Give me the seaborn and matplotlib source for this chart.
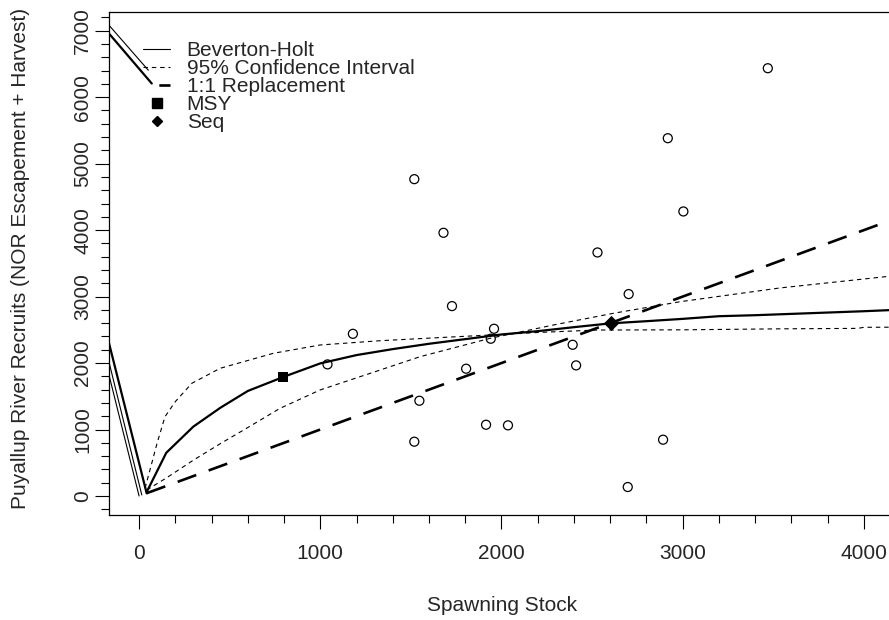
import matplotlib
matplotlib.use("Agg")
import matplotlib.pyplot as plt
from matplotlib.lines import Line2D
from matplotlib.ticker import MultipleLocator
import seaborn as sns
import pandas as pd

# ---- data ----
spawners = [3470, 2918, 1519, 3004, 1680, 2530, 2702, 1727, 1959, 1180, 1941,
            2393, 1040, 2412, 1805, 1547, 1915, 2036, 2892, 1519, 2697]
recruits = [6436, 5383, 4767, 4281, 3960, 3664, 3038, 2857, 2516, 2440, 2366,
            2275, 1980, 1965, 1915, 1433, 1072, 1063, 847, 817, 135]

bh_x = [42, 150, 300, 450, 600, 800, 1000, 1200, 1400, 1600, 1800, 2000, 2200,
        2400, 2600, 2800, 3000, 3200, 3400, 3600, 3800, 4000, 4172]
bh_y = [60, 650, 1045, 1330, 1580, 1795, 1995, 2120, 2210, 2290, 2360, 2430,
        2480, 2540, 2597, 2630, 2665, 2705, 2720, 2740, 2760, 2780, 2800]

ci_a_x = [33, 100, 143, 200, 291, 447, 741, 999, 1330, 1600, 1937, 2200, 2526,
          3000, 3537, 3968, 4000, 4172]
ci_a_y = [116, 800, 1193, 1420, 1695, 1921, 2147, 2272, 2336, 2375, 2422, 2460,
          2497, 2500, 2515, 2522, 2538, 2540]

ci_b_x = [42, 150, 300, 450, 600, 778, 999, 1330, 1551, 1937, 2300, 2618, 2986,
          3537, 4172]
ci_b_y = [90, 270, 540, 790, 1030, 1319, 1595, 1895, 2096, 2372, 2580, 2749,
          2923, 3130, 3315]

repl_x = [42, 4172]
repl_y = [42, 4172]

msy_x, msy_y = [796], [1794]
seq_x, seq_y = [2603], [2597]

# stray segments entering from the left edge
stray_thin1_x, stray_thin1_y = [-166, 0], [1820, 0]
stray_thin2_x, stray_thin2_y = [-166, 15], [2015, 15]
stray_thick_x, stray_thick_y = [-166, 42], [2300, 40]
stray_top_thin_x, stray_top_thin_y = [-166, 51], [7083, 6406]
stray_top_thick_x, stray_top_thick_y = [-166, 70], [6958, 6206]

legend_labels = ["Beverton-Holt", "95% Confidence Interval", "1:1 Replacement",
                 "MSY", "Seq"]
x_label = "Spawning Stock"
y_label = "Puyallup River Recruits (NOR Escapement + Harvest)"

# ---- style ----
sns.set_style("ticks")
plt.rcParams["font.family"] = ["Liberation Sans", "DejaVu Sans"]
FS = 15

fig = plt.figure(figsize=(8.89, 6.2), dpi=100)
W, H = 889, 620
left, right, top, bottom = 109, 895, 12, 515
ax = fig.add_axes([left / W, 1 - bottom / H, (right - left) / W, (bottom - top) / H])

def line(xs, ys, **kw):
    df = pd.DataFrame({"x": xs, "y": ys})
    sns.lineplot(data=df, x="x", y="y", ax=ax, sort=False, estimator=None,
                 color="black", **kw)

# stray lines
line(stray_thin1_x, stray_thin1_y, linewidth=0.8)
line(stray_thin2_x, stray_thin2_y, linewidth=0.8)
line(stray_thick_x, stray_thick_y, linewidth=1.6)
line(stray_top_thin_x, stray_top_thin_y, linewidth=0.8)
line(stray_top_thick_x, stray_top_thick_y, linewidth=1.6)

# curves
line(ci_a_x, ci_a_y, linewidth=0.8, linestyle=(0, (4, 3.5)))
line(ci_b_x, ci_b_y, linewidth=0.8, linestyle=(0, (4, 3.5)))
line(repl_x, repl_y, linewidth=1.9, linestyle=(0, (7.5, 5)))
line(bh_x, bh_y, linewidth=1.6)

sns.scatterplot(x=spawners, y=recruits, ax=ax, marker="o", s=42,
                facecolor="none", edgecolor="black", linewidth=0.9, zorder=5)
sns.scatterplot(x=msy_x, y=msy_y, ax=ax, marker="s", s=48, color="black",
                linewidth=0, zorder=6)
sns.scatterplot(x=seq_x, y=seq_y, ax=ax, marker="D", s=60, color="black",
                linewidth=0, zorder=6)

ax.set_xlim(-166, 4172)
ax.set_ylim(-286, 7282)
ax.set_xticks([0, 1000, 2000, 3000, 4000])
ax.set_yticks(range(0, 7001, 1000))
ax.xaxis.set_minor_locator(MultipleLocator(200))
ax.yaxis.set_minor_locator(MultipleLocator(200))
ax.tick_params(axis="both", which="major", length=10, width=0.8, color="black",
               labelsize=FS, direction="out")
ax.tick_params(axis="both", which="minor", length=5.5, width=0.8, color="black",
               direction="out")
ax.tick_params(axis="x", which="major", pad=11)
ax.tick_params(axis="y", which="major", pad=2)
for lbl in ax.get_yticklabels():
    lbl.set_rotation(90)
    lbl.set_verticalalignment("center")

for s in ["left", "bottom", "top"]:
    ax.spines[s].set_visible(True)
    ax.spines[s].set_linewidth(0.9)
    ax.spines[s].set_color("black")
ax.spines["right"].set_visible(False)

ax.set_xlabel(x_label, fontsize=FS)
ax.set_ylabel(y_label, fontsize=FS)
ax.xaxis.set_label_coords(0.5, -0.161)
ax.yaxis.set_label_coords(-0.1005, 0.51)

handles = [
    Line2D([], [], color="black", linewidth=0.8),
    Line2D([], [], color="black", linewidth=0.8, linestyle=(0, (4, 3.5))),
    Line2D([], [], color="black", linewidth=1.9, linestyle=(-6, (8, 20))),
    Line2D([], [], color="black", marker="s", markersize=7, linestyle="none"),
    Line2D([], [], color="black", marker="D", markersize=5.5, linestyle="none"),
]
ax.legend(handles, legend_labels, loc="upper left",
          bbox_to_anchor=((143 - left) / (right - left), (bottom - 41) / (bottom - top)),
          frameon=False, fontsize=FS, borderpad=0, borderaxespad=0,
          handlelength=1.3, handletextpad=0.8, labelspacing=-0.05)

fig.savefig("out.png", dpi=100)
